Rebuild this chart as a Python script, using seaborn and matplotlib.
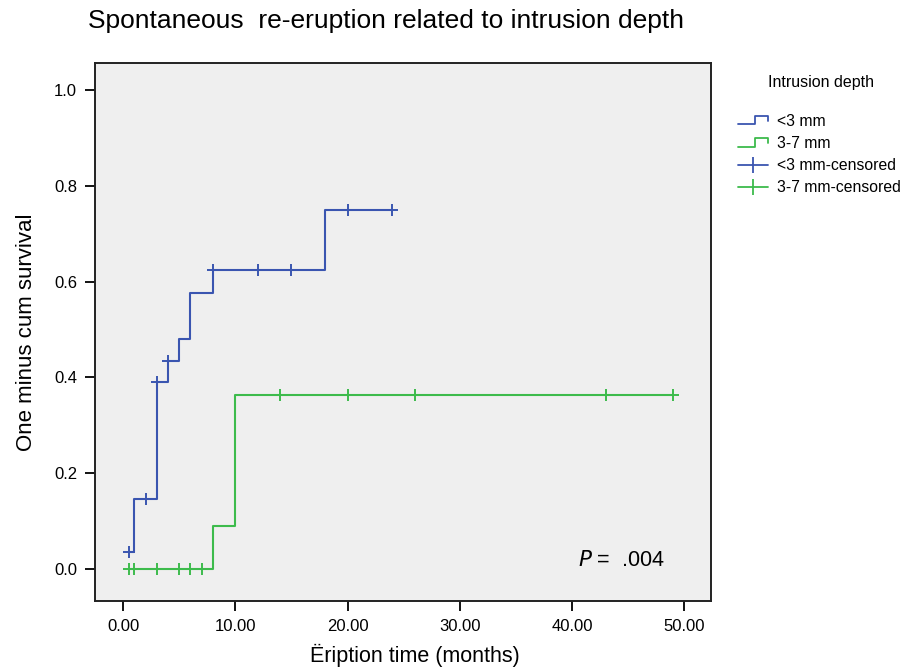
import matplotlib
matplotlib.use("Agg")
import matplotlib.pyplot as plt
import seaborn as sns
import pandas as pd
from matplotlib.lines import Line2D
from matplotlib.legend_handler import HandlerBase

# ---- data ----
blue_step_t = [0.5, 1, 3, 4, 5, 6, 8, 18, 24]
blue_step_y = [0.035, 0.147, 0.391, 0.435, 0.481, 0.577, 0.624, 0.749, 0.749]
blue_cens_t = [0.5, 2, 3, 4, 8, 12, 15, 20, 24]
blue_cens_y = [0.035, 0.147, 0.391, 0.435, 0.624, 0.624, 0.624, 0.749, 0.749]

green_step_t = [0.5, 8, 10, 49]
green_step_y = [0.0, 0.091, 0.363, 0.363]
green_cens_t = [0.5, 1, 3, 5, 6, 7, 14, 20, 26, 43, 49]
green_cens_y = [0.0, 0.0, 0.0, 0.0, 0.0, 0.0, 0.363, 0.363, 0.363, 0.363, 0.363]

group_labels = ["<3 mm", "3-7 mm"]
x_ticks = [0, 10, 20, 30, 40, 50]
y_ticks = [0.0, 0.2, 0.4, 0.6, 0.8, 1.0]

BLUE = "#3a55b0"
GREEN = "#3dbb4c"

sns.set_theme(style="white")
plt.rcParams['font.family'] = ['Liberation Sans', 'DejaVu Sans']
plt.rcParams.update({"text.color": "black", "axes.labelcolor": "black",
                     "xtick.color": "black", "ytick.color": "black"})

fig = plt.figure(figsize=(9.14, 6.71), dpi=100)
ax = fig.add_axes([0.104, 0.104, 0.674, 0.802])
ax.set_facecolor("#efefef")

df_b = pd.DataFrame({"t": blue_step_t, "y": blue_step_y})
df_g = pd.DataFrame({"t": green_step_t, "y": green_step_y})
sns.lineplot(data=df_b, x="t", y="y", ax=ax, color=BLUE, drawstyle="steps-post", lw=1.5, sort=True)
sns.lineplot(data=df_g, x="t", y="y", ax=ax, color=GREEN, drawstyle="steps-post", lw=1.5, sort=True)
sns.scatterplot(x=blue_cens_t, y=blue_cens_y, ax=ax, marker="+", s=80, color=BLUE, linewidth=1.4, zorder=3)
sns.scatterplot(x=green_cens_t, y=green_cens_y, ax=ax, marker="+", s=80, color=GREEN, linewidth=1.4, zorder=3)

ax.set_xlim(-2.5, 52.4)
ax.set_ylim(-0.067, 1.056)
ax.set_xticks(x_ticks)
ax.set_xticklabels([f"{v:.2f}" for v in x_ticks], fontsize=12)
ax.set_yticks(y_ticks)
ax.set_yticklabels([f"{v:.1f}" for v in y_ticks], fontsize=12)
ax.tick_params(axis="both", direction="out", length=7, width=1.3, color="black", bottom=True, left=True, pad=6)
for s in ax.spines.values():
    s.set_color("#222222")
    s.set_linewidth(1.4)

ax.set_xlabel("Ëription time (months)", fontsize=15.5)
ax.xaxis.set_label_coords((415 - 95) / 616, (601 - 644) / 538)
ax.set_ylabel("One minus cum survival", fontsize=16, labelpad=12)
fig.text(0.096, 0.968, "Spontaneous  re-eruption related to intrusion depth", fontsize=19, va="center", ha="left")

ax.text(0.854, 0.076, r"$\it{P}$ =  .004", transform=ax.transAxes, fontsize=15.5, ha="center", va="center")


class StepHandler(HandlerBase):
    def create_artists(self, legend, orig_handle, xdescent, ydescent, width, height, fontsize, trans):
        c = orig_handle.get_color()
        x0, x1 = -xdescent, -xdescent + width
        xm = x0 + width * 0.55
        ylo = -ydescent + height * 0.15
        yhi = -ydescent + height * 0.9
        yd = -ydescent + height * 0.45
        line = Line2D([x0, xm, xm, x1, x1], [ylo, ylo, yhi, yhi, yd], color=c, lw=1.3)
        line.set_transform(trans)
        return [line]


h1 = Line2D([], [], color=BLUE)
h2 = Line2D([], [], color=GREEN)
h3 = Line2D([], [], color=BLUE, marker="|", markersize=12, markeredgewidth=1.3, lw=1.3)
h4 = Line2D([], [], color=GREEN, marker="|", markersize=12, markeredgewidth=1.3, lw=1.3)

fig.text(768 / 914, 1 - 82 / 671, "Intrusion depth", fontsize=11.5, ha="left", va="center")
leg = fig.legend([h1, h2, h3, h4],
                 [group_labels[0], group_labels[1], group_labels[0] + "-censored", group_labels[1] + "-censored"],
                 handler_map={h1: StepHandler(), h2: StepHandler()},
                 loc="upper left", bbox_to_anchor=(724 / 914, 1 - 100 / 671), frameon=False,
                 fontsize=11.3, handlelength=1.9, handletextpad=0.6, labelspacing=0.45)

fig.savefig("out.png", dpi=100, facecolor="white")
